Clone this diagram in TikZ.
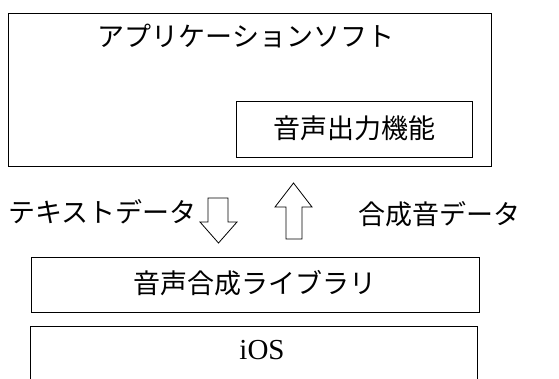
\documentclass[tikz,border=0pt]{standalone}
\usepackage{fontspec}
\newfontfamily\jp{Noto Sans CJK JP}
\newfontfamily\serifen{Liberation Serif}
\begin{document}
\begin{tikzpicture}[x=1pt,y=-1pt,
  box/.style={draw=black, line width=0.9pt, inner sep=0pt, anchor=north west},
  lbl/.style={font=\jp\fontsize{27}{30}\selectfont, inner sep=0pt},
  blockarrow/.style={draw=black, line width=0.8pt, fill=white, line join=miter}]
\clip (0,0) rectangle (559,378);
\fill[white] (0,0) rectangle (559,378);
% application box
\node[box, line width=1.3pt, minimum width=483pt, minimum height=153pt] (app) at (8,13) {};
\node[lbl] (apptxt) at (246,36) {アプリケーションソフト};
\node[box, minimum width=236pt, minimum height=56pt] (out) at (236,101) {};
\node[lbl] (outtxt) at (354,128) {音声出力機能};
% arrows
\draw[blockarrow] (208,198) -- (228,198) -- (228,222) -- (237,222) -- (218.5,243) -- (200,222) -- (208,222) -- cycle;
\draw[blockarrow] (286,239) -- (302,239) -- (302,207) -- (312,207) -- (293.5,183) -- (275,207) -- (286,207) -- cycle;
\node[lbl, anchor=west] (txtdata) at (8,212) {テキストデータ};
\node[lbl, anchor=west] (snddata) at (358,214) {合成音データ};
% library
\node[box, minimum width=448pt, minimum height=55pt] (lib) at (31,257) {};
\node[lbl] (libtxt) at (255,283) {音声合成ライブラリ};
% iOS
\node[box, minimum width=447pt, minimum height=80pt] (ios) at (30,326) {};
\node[font=\serifen\fontsize{29}{32}\selectfont, inner sep=0pt] (iostxt) at (262,350) {iOS};
\end{tikzpicture}
\end{document}
